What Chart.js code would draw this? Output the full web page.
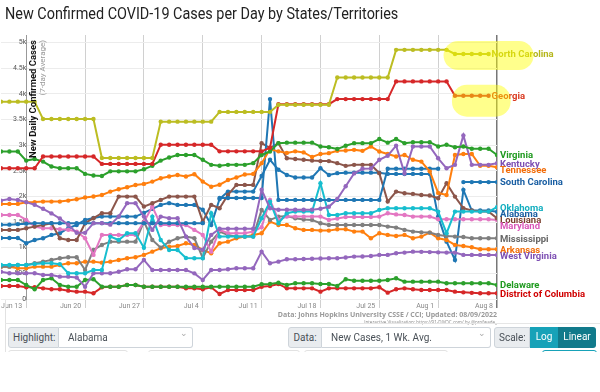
<!DOCTYPE html>
<html>
<head>
<meta charset="utf-8">
<script src="https://cdn.jsdelivr.net/npm/chart.js@4.4.0/dist/chart.umd.min.js"></script>
<style>
  body { margin: 0; width: 600px; height: 392px; overflow: hidden; background: #fff; font-family: Roboto, "Liberation Sans", sans-serif; }
  #page { position: absolute; left: 0; top: 0; width: 600px; height: 352px; overflow: hidden; }
  #title { position: absolute; left: 5px; top: 4px; font-size: 16px; color: #222; white-space: nowrap; transform: scaleX(0.9); transform-origin: left top; }
  #chartBox { position: absolute; left: 0; top: 0; width: 600px; height: 320px; }
  #credit1 { position: absolute; right: 103px; top: 310px; font: bold 7px "Open Sans", sans-serif; color: #9a9a9a; white-space: nowrap; }
  #credit2 { position: absolute; right: 103px; top: 319px; font: 4.5px "Open Sans", sans-serif; color: #888; white-space: nowrap; }
  #card { position: absolute; left: 5px; top: 300px; width: 594px; height: 60px; border-left: 1px solid #e2e2e2; }
  #sep { position: absolute; left: 5px; top: 323px; width: 595px; border-top: 1px solid #e6e6e6; }
  .grp { position: absolute; top: 327px; height: 21px; display: flex; font-size: 10px; color: #495057; box-sizing: border-box; }
  .grp > div { box-sizing: border-box; height: 21px; line-height: 19px; white-space: nowrap; }
  .lab { background: #e9ecef; border: 1px solid #ced4da; border-radius: 3px 0 0 3px; padding: 0 4px; text-align: center; }
  .sel { background: #fff; border: 1px solid #ced4da; border-left: none; border-radius: 0 3px 3px 0; padding: 0 9px; position: relative; flex: 1; }
  .sel::after { content: "\2304"; position: absolute; right: 4px; top: -4px; color: #aaa; font-size: 9px; }
  .btn { color: #fff; text-align: center; }
  .row2 { position: absolute; top: 350px; height: 20px; border: 1px solid #e2e2e2; border-radius: 3px; }
</style>
</head>
<body>
<div id="page">
  <div id="chartBox"><canvas id="chart" width="600" height="320"></canvas></div>
  <div id="title">New Confirmed COVID-19 Cases per Day by States/Territories</div>
  <div id="credit1">Data: Johns Hopkins University CSSE / CCI; Updated: 08/09/2022</div>
  <div id="credit2">Interactive Visualization: https://91-DIVOC.com/ by @profwade_</div>
  <div id="card"></div>
  <div id="sep"></div>
  <div class="grp" style="left:8px;width:185px;"><div class="lab" style="width:51px;">Highlight:</div><div class="sel">Alabama</div></div>
  <div class="grp" style="left:288px;width:203px;"><div class="lab" style="width:34px;">Data:</div><div class="sel">New Cases, 1 Wk. Avg.</div></div>
  <div class="grp" style="left:494px;width:102px;"><div class="lab" style="width:36px;">Scale:</div><div class="btn" style="width:28px;background:#17a2b8;">Log</div><div class="btn" style="width:38px;background:#117a8b;border-radius:0 3px 3px 0;">Linear</div></div>
  <div class="row2" style="left:8px;width:118px;"></div>
  <div class="row2" style="left:148px;width:150px;"></div>
  <div class="row2" style="left:304px;width:142px;"></div>
  <div class="row2" style="left:542px;width:53px;border-color:#17a2b8;"></div>
</div>
<script>
// days counted from Jun 13 (day 0); the data start 3 days earlier
const firstDay = -3;
const lastDay = 56;
const xTickDays = [0, 7, 14, 21, 28, 35, 42, 49, 56];
const tickLabels = ["Jun 13", "Jun 20", "Jun 27", "Jul 4", "Jul 11", "Jul 18", "Jul 25", "Aug 1", "Aug 8"];
const yTicks = [0, 500, 1000, 1500, 2000, 2500, 3000, 3500, 4000, 4500, 5000];
const yTickLabels = ["0", "500", "1k", "1.5k", "2k", "2.5k", "3k", "3.5k", "4k", "4.5k", "5k"];

const states = ["North Carolina", "Georgia", "Virginia", "Kentucky", "Tennessee", "South Carolina", "Oklahoma",
  "Louisiana", "Maryland", "Mississippi", "Arkansas", "West Virginia", "Delaware", "District of Columbia", "Alabama"];
const colors = ["#bcbd22", "#d62728", "#2ca02c", "#9467bd", "#ff7f0e", "#1f77b4", "#17becf",
  "#8c564b", "#e377c2", "#7f7f7f", "#ff7f0e", "#9467bd", "#2ca02c", "#d62728", "#1f77b4"];
const labelColors = ["#b5b61c", "#d9381e", "#1f9a1f", "#7d4fb3", "#f26d0a", "#1a5fa3", "#12aebf",
  "#7a3f2e", "#d957b8", "#666666", "#f26d0a", "#7d4fb3", "#1f9a1f", "#d00000", "#1a5fa3"];

const northCarolina = [3850, 3850, 3850, 3850, 3850, 3510, 3510, 3510, 3510, 3510,
  3510, 3510, 2750, 2750, 2750, 2750, 2750, 2750, 2750, 3460,
  3460, 3460, 3460, 3460, 3460, 3460, 3650, 3650, 3650, 3650,
  3650, 3650, 3650, 3790, 3790, 3790, 3790, 3790, 3790, 3790,
  4320, 4320, 4320, 4320, 4320, 4320, 4320, 4860, 4860, 4860,
  4860, 4860, 4860, 4860, 4780, 4780, 4780, 4780, 4780, null];
const georgia = [2550, 2550, 2550, 2550, 2550, 2780, 2780, 2780, 2780, 2780,
  2780, 2780, 2635, 2635, 2635, 2635, 2635, 2635, 2635, 3010,
  3010, 3010, 3010, 3010, 3010, 3010, 2880, 2880, 2880, 2880,
  2880, 2880, 2950, 3800, 3800, 3800, 3800, 3800, 3800, 3800,
  3900, 3900, 3900, 3900, 3900, 3900, 3900, 4245, 4245, 4245,
  4245, 4245, 4245, 4245, 3965, 3965, 3965, 3965, 3965, null];
const virginia = [2877, 2877, 2877, 2700, 2730, 2680, 2585, 2550, 2550, 2550,
  2440, 2410, 2400, 2490, 2490, 2490, 2490, 2530, 2600, 2700,
  2760, 2810, 2810, 2810, 2715, 2617, 2600, 2617, 2617, 2617,
  2650, 2810, 2877, 3040, 3050, 3050, 3050, 3050, 2975, 2960,
  2925, 2990, 3040, 3040, 3040, 3120, 3050, 3120, 3040, 3060,
  3060, 3060, 2975, 3010, 2960, 2975, 2930, 2930, 2930, 2810];
const kentucky = [1920, 1950, 1930, 1890, 1840, 1760, 1670, 1570, 1450, 1290,
  1290, 1480, 1480, 1450, 1607, 1870, 1870, 1607, 1348, 1607,
  1576, 1576, 1217, 996, 960, 1250, 1370, 1370, 1370, 1370,
  1370, 2130, 1770, 1740, 1740, 1740, 1740, 1740, 1760, 1800,
  1950, 2200, 2450, 2540, 2545, 2715, 2795, 2990, 2450, 2975,
  2975, 2975, 2745, 2550, 2617, 3190, 2617, 2617, 2617, 2650];
const tennessee = [1855, 1855, 1855, 1888, 1890, 1900, 1900, 1900, 1920, 1947,
  1980, 2000, 2030, 2095, 2140, 2180, 2225, 2245, 2290, 2355,
  2390, 2420, 2390, 2435, 2290, 2190, 2230, 2320, 2370, 2430,
  2440, 2650, 2920, 2880, 2850, 2880, 2860, 2770, 2830, 2845,
  2890, 2897, 2910, 2890, 2975, 2877, 2830, 2780, 2810, 2715,
  2680, 2490, 2070, 2030, 2810, 2830, 2830, 2600, 2600, 2570];
const southCarolina = [1450, 1450, 1460, 1470, 1480, 1480, 1480, 1480, 1480, 1480,
  1480, 1480, 1480, 1480, 1480, 1480, 1480, 1480, 1480, 1480,
  1480, 1480, 1480, 1480, 1480, null, 1970, 1970, 1970, 1970,
  1970, 1970, 3900, 1933, 1933, 1933, 1933, 1933, 1933, 1933,
  1933, 1933, 1933, 1933, 1933, 1933, 2540, 2540, 2540, 2540,
  2540, 2540, 2540, null, null, 2280, 2280, 2280, 2280, 2280];
const oklahoma = [664, 664, 664, 664, 684, 697, 697, 680, 502, 502,
  502, 566, 566, 1217, 1150, 1283, 1283, 1000, 1607, 1150,
  957, 957, 800, 795, 795, 1673, 1217, 1217, 1217, 1217,
  1217, 1576, 1900, 1478, 1673, 1705, 1705, 1705, 2260, 1640,
  1640, 1673, 1673, 1673, 1673, 1738, 1771, 1771, 1771, 1771,
  1771, 1771, 1705, 1283, 1705, 1705, 1705, 1705, 1705, 1790];
const louisiana = [1348, 1348, 1348, 1380, 1412, 1445, 1478, 1185, 1152, 1152,
  1478, 1576, 1673, 1673, 1998, 1998, 1998, 1803, 1868, 1933,
  1998, 1998, 1998, 1998, 1510, 1836, 1771, 2031, 2226, 2226,
  2226, 3040, 2943, 3040, 2747, 2730, 2715, 2700, 2690, 2690,
  2650, 2597, 2617, 2617, 2617, 2455, 1900, 2095, 2064, 2050,
  2030, 2020, 1966, 2260, 1998, 1771, 1725, 1705, 1705, 1576];
const maryland = [1640, 1640, 1640, 1543, 1412, 1380, 1380, 1360, 1350, 1315,
  1185, 860, 1250, 1250, 1250, 1250, 1250, 1500, 1803, 1445,
  1445, 1445, 1445, 1348, 1250, 924, 1348, 1283, 1283, 1283,
  1315, 1400, 1933, 1543, 1607, 1607, 1607, 1607, 1607, 1543,
  1570, 1600, 1600, 1600, 1600, 1607, 1673, 1650, 1640, 1607,
  1607, 1607, 1556, 1556, 1556, 1556, 1556, 1556, 1556, 1543];
const mississippi = [631, 631, 664, 664, 697, 729, 762, 795, 814, 814,
  566, 957, 1055, 1119, 1119, 1119, 1119, 1510, 1152, 1000,
  1119, 1185, 1217, 1185, 800, 1119, 1315, 1250, 1217, 1217,
  1217, 1738, 1543, 1607, 1620, 1576, 1550, 1543, 1478, 1445,
  1445, 1445, 1445, 1445, 1445, 1445, 1412, 1393, 1348, 1315,
  1300, 1295, 1250, 1230, 1217, 1210, 1185, 1185, 1185, 1185];
const arkansas = [631, 631, 600, 600, 631, 631, 631, 664, 697, 697,
  729, 729, 709, 729, 762, 795, 814, 860, 924, 990,
  1021, 1035, 1088, 1055, 957, 892, 1088, 1119, 1185, 1217,
  1250, 1283, 1510, 1445, 1445, 1380, 1348, 1348, 1334, 1334,
  1360, 1360, 1315, 1315, 1185, 1283, 1250, 1230, 1250, 1185,
  1217, 1295, 1185, 1152, 1055, 1035, 1010, 970, 970, 970];
const westVirginia = [533, 502, 502, 502, 502, 469, 469, 436, 436, 420,
  240, 502, 502, 502, 533, 580, 580, 762, 566, 566,
  566, 566, 566, 500, 371, 566, 566, 580, 600, 600,
  600, 924, 697, 729, 775, 775, 780, 785, 790, 795,
  795, 810, 827, 830, 840, 860, 860, 892, 905, 924,
  920, 915, 910, 905, 905, 860, 860, 860, 860, 860];
const delaware = [371, 371, 371, 273, 189, 371, 404, 273, 240, 240,
  371, 384, 240, 240, 240, 273, 273, 240, 240, 240,
  240, 240, 240, 240, 240, 240, 240, 240, 240, 240,
  240, 287, 293, 318, 273, 306, 306, 306, 293, 293,
  254, 384, 357, 357, 357, 357, 371, 404, 338, 338,
  338, 338, 338, 306, 306, 306, 306, 306, 306, 273];
const districtOfColumbia = [254, 254, 254, 228, 228, 208, 189, 189, 163, 143,
  143, 111, 228, 240, 240, 273, 273, 240, 240, 240,
  240, 240, 208, 208, 189, 228, 98, 176, 176, 176,
  176, 240, 254, 293, 208, 208, 208, 208, 143, 208,
  208, 208, 208, 208, 208, 228, 124, 189, 208, 189,
  176, 176, 176, 176, 143, 130, 120, 111, 111, 111];
const alabama = [1190, 1190, 1190, 1088, 1152, 1185, 1250, 1283, 1380, 1445,
  1543, 1580, 1607, 1607, 1607, 1607, 1607, 1680, 1760, 1836,
  1870, 1836, 1836, 1836, 1740, 1445, 1950, 2095, 2095, 2095,
  2095, 2400, 2715, 2520, 2420, 2370, 2370, 2370, 2550, 2420,
  2455, 2465, 2465, 2465, 2465, 2465, 2440, 2440, 2440, 2440,
  2440, 2440, 1607, 1119, 762, 2129, 1725, 1725, 1725, 1700];

const series = [northCarolina, georgia, virginia, kentucky, tennessee, southCarolina, oklahoma,
  louisiana, maryland, mississippi, arkansas, westVirginia, delaware, districtOfColumbia, alabama];

// states marked with a highlighter on the picture
const highlighted = ["North Carolina", "Georgia"];
const missingMarkValue = -100;

const FONT = 'Roboto, "Liberation Sans", sans-serif';

const datasets = series.map((vals, k) => ({
  label: states[k],
  data: vals.map((v, i) => ({ x: firstDay + i, y: v })),
  borderColor: colors[k],
  backgroundColor: colors[k],
  borderWidth: 2,
  pointRadius: 2.2,
  pointBorderWidth: 0,
  spanGaps: false,
  tension: 0
}));

// days with no South Carolina report, shown as dots under the axis
const scMissing = [];
southCarolina.forEach((v, i) => { if (v === null) scMissing.push({ x: firstDay + i, y: missingMarkValue }); });
datasets.push({
  label: "missing",
  data: scMissing,
  showLine: false,
  pointRadius: 2.5,
  pointBorderWidth: 0,
  backgroundColor: "#1f77b4",
  borderColor: "#1f77b4",
  clip: false
});

const extras = {
  id: "extras",
  afterDatasetsDraw(chart) {
    const ctx = chart.ctx;
    const xs = chart.scales.x, ys = chart.scales.y;
    ctx.save();
    // y-axis title
    ctx.translate(xs.getPixelForValue(0) + 7, chart.chartArea.top + 5);
    ctx.rotate(-Math.PI / 2);
    ctx.textAlign = "right";
    ctx.textBaseline = "middle";
    ctx.fillStyle = "#111";
    ctx.font = "bold 9.5px " + FONT;
    ctx.fillText("New Daily Confirmed Cases", 0, 0);
    ctx.fillStyle = "#999";
    ctx.font = "8px " + FONT;
    ctx.fillText("(7-day Average)", 0, 10);
    ctx.restore();

    // state names at the end of each line, pushed apart so they do not sit on each other
    const ends = series.map((vals, k) => {
      let i = vals.length - 1;
      while (vals[i] === null) i--;
      const py = ys.getPixelForValue(vals[i]);
      return { k, i, px: xs.getPixelForValue(firstDay + i), py, ly: py + 1 };
    });
    const order = ends.slice().sort((a, b) => a.py - b.py);
    for (let n = 1; n < order.length; n++) {
      if (order[n].ly - order[n - 1].ly < 6.2) order[n].ly = order[n - 1].ly + 6.2;
    }
    ctx.save();
    ctx.font = "bold 9.5px " + FONT;
    ctx.textBaseline = "middle";
    ends.forEach(e => {
      ctx.fillStyle = labelColors[e.k];
      ctx.fillText(states[e.k], e.px + 3, e.ly);
    });
    ctx.restore();

    // highlighter marks over two of the labels
    ctx.save();
    ctx.fillStyle = "rgba(255, 255, 0, 0.45)";
    highlighted.forEach(name => {
      const e = ends[states.indexOf(name)];
      const isGa = name === "Georgia";
      const x0 = xs.getPixelForValue(firstDay + e.i - (isGa ? 4 : 5)) - 3;
      const x1 = e.px + (isGa ? 22 : 45);
      const y0 = e.py - (isGa ? 11 : 13);
      const h = isGa ? 32 : 29;
      ctx.beginPath();
      ctx.roundRect(x0, y0, x1 - x0, h, 15);
      ctx.fill();
    });
    ctx.restore();
  }
};

new Chart(document.getElementById("chart"), {
  type: "line",
  data: { datasets },
  plugins: [extras],
  options: {
    responsive: false,
    animation: false,
    devicePixelRatio: 1,
    layout: { autoPadding: false, padding: { left: 1, right: 103, top: 35, bottom: 9 } },
    plugins: { legend: { display: false }, tooltip: { enabled: false } },
    scales: {
      x: {
        type: "linear",
        min: firstDay,
        max: lastDay,
        afterFit: scale => { scale.height = 12; },
        afterBuildTicks: scale => { scale.ticks = xTickDays.map(v => ({ value: v })); },
        grid: {
          color: c => (c.tick && c.tick.value === lastDay ? "#777" : "#d0d0d0"),
          lineWidth: c => (c.tick && c.tick.value === lastDay ? 1.5 : 1),
          tickLength: 9
        },
        border: { display: false },
        ticks: {
          align: "end",
          labelOffset: -4,
          padding: -6,
          color: "#888",
          font: { size: 7, family: FONT },
          maxRotation: 0,
          autoSkip: false,
          callback: v => tickLabels[xTickDays.indexOf(v)]
        }
      },
      y: {
        type: "linear",
        position: { x: 0 },
        min: 0,
        max: 5150,
        afterBuildTicks: scale => { scale.ticks = yTicks.map(v => ({ value: v })); },
        grid: { color: "#ececec", tickLength: 4 },
        border: { display: true, color: "#999" },
        ticks: {
          padding: 2,
          color: "#555",
          autoSkip: false,
          font: { size: 7, family: FONT },
          callback: v => yTickLabels[yTicks.indexOf(v)]
        }
      }
    }
  }
});
</script>
</body>
</html>
